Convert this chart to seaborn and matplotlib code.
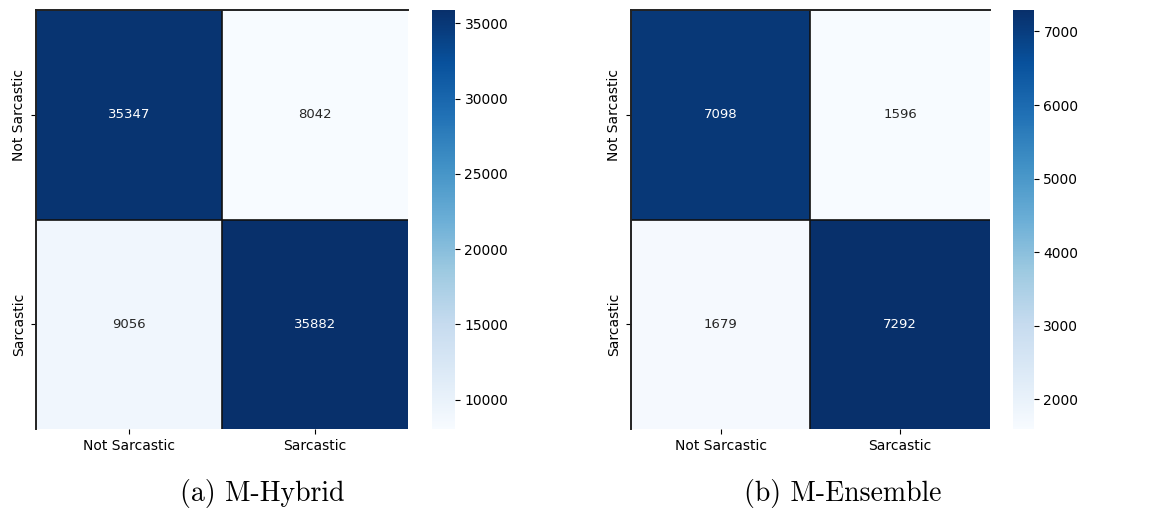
import numpy as np
import pandas as pd
import matplotlib
matplotlib.use("Agg")
import matplotlib.pyplot as plt
import seaborn as sns

categories = ["Not Sarcastic", "Sarcastic"]
hybrid_values = [[35347, 8042], [9056, 35882]]
ensemble_values = [[7098, 1596], [1679, 7292]]
captions = ["(a) M-Hybrid", "(b) M-Ensemble"]

fig = plt.figure(figsize=(11.51, 5.13), dpi=100)

panels = [
    (hybrid_values, [0.0313, 0.1637, 0.3232, 0.8168], [0.3753, 0.1637, 0.0198, 0.8168], 0.2276),
    (ensemble_values, [0.5482, 0.1637, 0.3119, 0.8168], [0.8801, 0.1637, 0.0180, 0.8168], 0.7324),
]

for (vals, axpos, cpos, capx), cap in zip(panels, captions):
    ax = fig.add_axes(axpos)
    cax = fig.add_axes(cpos)
    df = pd.DataFrame(vals, index=categories, columns=categories)
    sns.heatmap(df, ax=ax, cbar_ax=cax, cmap="Blues", annot=True, fmt="d",
                annot_kws={"fontsize": 9.5}, square=False)
    ax.tick_params(axis="both", labelsize=10, length=3.5)
    for s in ["left", "top"]:
        ax.spines[s].set_visible(True)
        ax.spines[s].set_color("#222222")
        ax.spines[s].set_linewidth(1.4)
    for k in range(1, len(categories)):
        ax.axhline(k, color="#111111", lw=1.2)
        ax.axvline(k, color="#111111", lw=1.2)
    cax.tick_params(labelsize=10, length=3.5)
    fig.text(capx, 1 - 493 / 513, cap, ha="center", va="center",
             fontsize=20, family="cmr10")

fig.savefig("out.png", dpi=100)
